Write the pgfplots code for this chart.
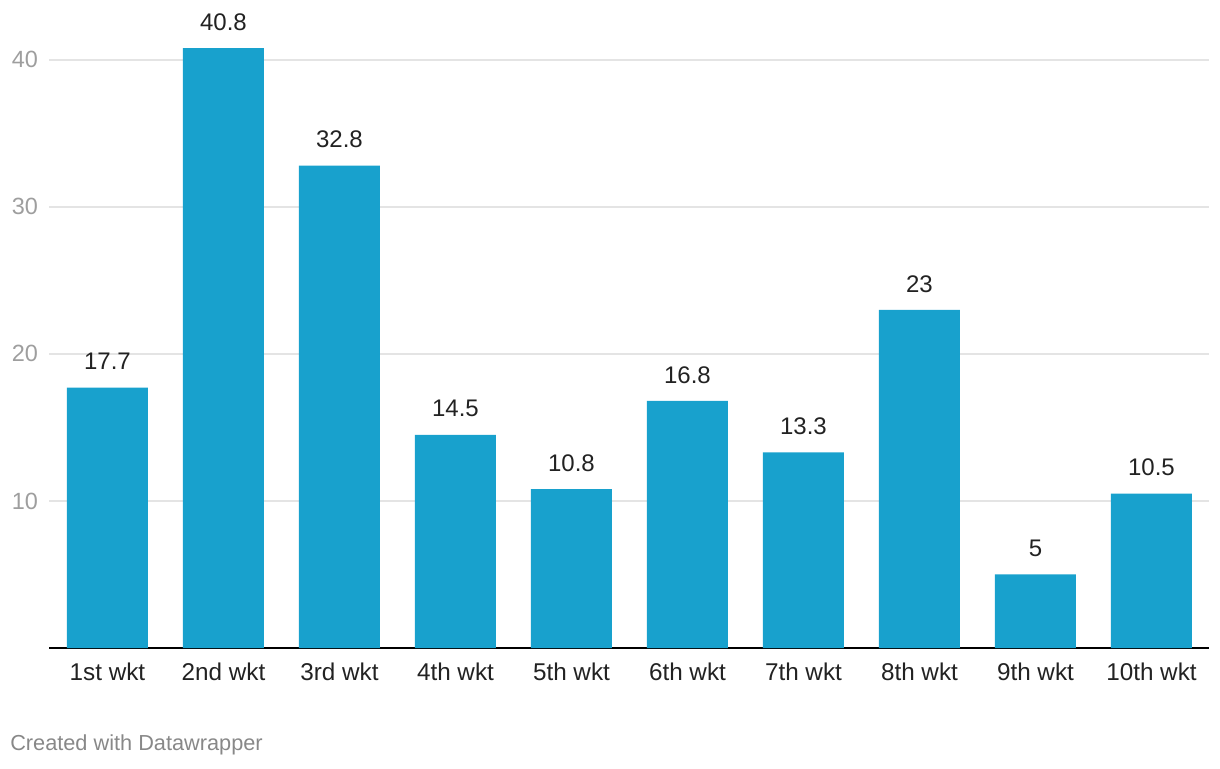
\documentclass[border=0pt]{standalone}
\usepackage{pgfplots}
\pgfplotsset{compat=1.18}
\usepackage{fontspec}
\setmainfont{Liberation Sans}
\definecolor{barblue}{HTML}{18A1CD}
\definecolor{gridgray}{HTML}{E4E4E4}
\definecolor{ticktext}{HTML}{9E9E9E}
\definecolor{labeltext}{HTML}{222222}
\definecolor{credit}{HTML}{888888}
\begin{document}
\begin{tikzpicture}
\path[use as bounding box] (0,0) rectangle (915pt,576pt);
\begin{axis}[
    at={(37.1pt,90pt)}, anchor=south west,
    scale only axis,
    width=870pt, height=452.2pt,
    ybar, bar width=60.75pt,
    xmin=-0.5, xmax=9.5,
    ymin=0, ymax=41,
    xtick=data,
    xticklabels={1st wkt,2nd wkt,3rd wkt,4th wkt,5th wkt,6th wkt,7th wkt,8th wkt,9th wkt,10th wkt},
    ytick={10,20,30,40},
    axis x line=bottom, axis y line=left,
    x axis line style={-, black, line width=1.4pt},
    y axis line style={draw=none},
    major tick length=0pt,
    ymajorgrids=true,
    grid style={gridgray, line width=1.1pt},
    /pgf/number format/assume math mode=true,
    xticklabel style={font=\fontsize{18.2pt}{21pt}\selectfont, text=labeltext, anchor=center, inner sep=0pt, yshift=-18pt},
    yticklabel style={font=\fontsize{17.6pt}{20pt}\selectfont, text=ticktext, anchor=east, inner sep=0pt, xshift=-8.5pt},
    nodes near coords,
    nodes near coords style={font=\fontsize{18pt}{21pt}\selectfont, text=labeltext, anchor=center, inner sep=0pt, yshift=19.5pt},
]
\addplot[fill=barblue, draw=none] coordinates {
    (0,17.7) (1,40.8) (2,32.8) (3,14.5) (4,10.8)
    (5,16.8) (6,13.3) (7,23) (8,5) (9,10.5)
};
\end{axis}
\node[anchor=west, inner sep=0pt, text=credit, font=\fontsize{16.3pt}{19pt}\selectfont] at (7.5pt,17.3pt) {Created with Datawrapper};
\end{tikzpicture}
\end{document}
